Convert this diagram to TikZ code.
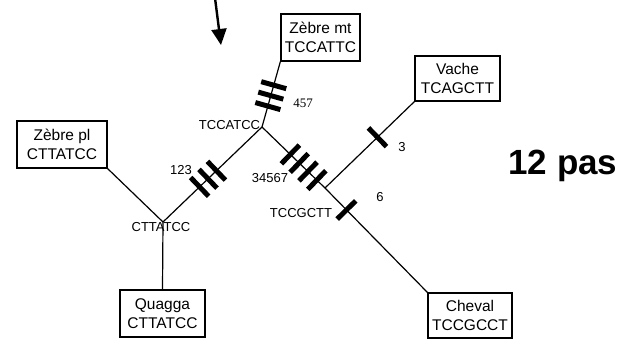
\documentclass[tikz,border=0pt]{standalone}
\usepackage{fontspec}
\setmainfont{Liberation Sans}
\newfontfamily\numserif{Liberation Serif}
\usetikzlibrary{arrows.meta,calc,decorations.markings}

\tikzset{
	taxon/.style={draw, line width=1.3pt, align=center, inner sep=0pt,
		minimum height=47pt, font=\fontsize{15.5}{18.5}\selectfont},
	lbl/.style={inner sep=0pt, font=\fontsize{13}{15}\selectfont},
	branch/.style={line width=1.2pt},
	bar/.style={postaction={decorate, decoration={markings,
				mark=at position #1 with {\draw[line width=5pt] (0,-13pt) -- (0,13pt);}}}}
}

\begin{document}
\begin{tikzpicture}[x=1pt, y=-1pt]
			
			\useasboundingbox (0,0) rectangle (630,342);
			
			\coordinate (A) at (262,127);
			\coordinate (B) at (163,222);
			\coordinate (C) at (325,188);
			\coordinate (arrtop) at (215,-2);
			\coordinate (arrtip) at (221,45);
			
			\node[taxon, minimum width=79pt] (zmt) at (320.5,37.5) {Zèbre mt\\TCCATTC};
			\node[taxon, minimum width=85pt, minimum height=45pt] (vache) at (457.5,78.5) {Vache\\TCAGCTT};
			\node[taxon, minimum width=90pt] (zpl) at (62,144.5) {Zèbre pl\\CTTATCC};
			\node[taxon, minimum width=85pt] (quagga) at (162.5,313.5) {Quagga\\CTTATCC};
			\node[taxon, minimum width=84pt, minimum height=45pt] (cheval) at (470,315.5) {Cheval\\TCCGCCT};
			
			\draw[branch, bar=0.32, bar=0.48, bar=0.64] (A) -- (zmt.south west);
			\draw[branch] (B) -- (zpl.south east);
			\draw[branch] (B) -- (quagga.north);
			\draw[branch, bar=0.37, bar=0.455, bar=0.54] (B) -- (A);
			\draw[branch, bar=0.45, bar=0.59, bar=0.73, bar=0.87] (A) -- (C);
			\draw[branch, bar=0.59] (C) -- (vache.south west);
			\draw[branch, bar=0.21] (C) -- (cheval.north west);
			
			\draw[line width=2.4pt, -{Triangle[width=15pt,length=16pt]}] (arrtop) -- (arrtip);
			
			\node[lbl] (seqA) at (229.5,125) {TCCATCC};
			\node[lbl] (seqB) at (161,227) {CTTATCC};
			\node[lbl] (seqC) at (301,213) {TCCGCTT};
			
			\node[lbl, font=\numserif\fontsize{13}{15}\selectfont] (mzmt) at (303,103) {457};
			\node[lbl] (mAB) at (181,170) {123};
			\node[lbl] (mAC) at (270,178) {34567};
			\node[lbl] (mvache) at (402,147) {3};
			\node[lbl] (mcheval) at (380,197) {6};
			
			\node[font=\bfseries\fontsize{35}{40}\selectfont, inner sep=0pt] (steps) at (563,166) {12 pas};
			
	\end{tikzpicture}
\end{document}
